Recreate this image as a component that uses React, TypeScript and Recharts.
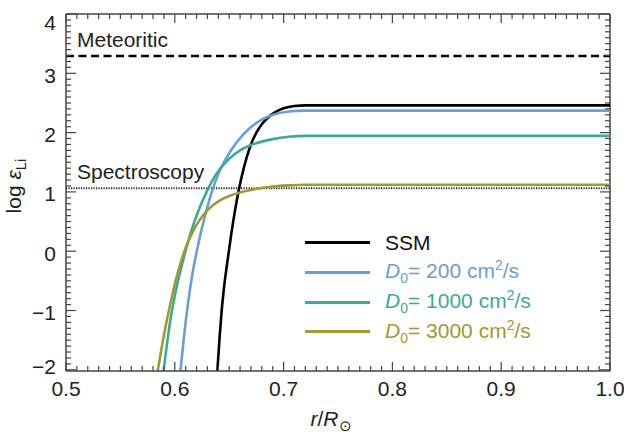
import React from 'react';
import { LineChart, Line, XAxis, YAxis, ReferenceLine } from 'recharts';

// ---- data ----
const ssmX = [0.639, 0.641, 0.643, 0.645, 0.648, 0.652, 0.657, 0.661, 0.666, 0.670, 0.675, 0.680, 0.686, 0.692, 0.700, 0.710, 0.720, 1.0];
const ssmY = [-2.05, -1.50, -1.02, -0.65, -0.22, 0.30, 0.86, 1.22, 1.58, 1.80, 2.00, 2.14, 2.26, 2.34, 2.41, 2.45, 2.46, 2.46];

const d200X = [0.605, 0.608, 0.611, 0.614, 0.617, 0.620, 0.624, 0.629, 0.634, 0.640, 0.647, 0.657, 0.668, 0.680, 0.692, 0.705, 0.720, 1.0];
const d200Y = [-2.05, -1.52, -1.04, -0.64, -0.30, -0.02, 0.32, 0.68, 1.00, 1.30, 1.56, 1.84, 2.06, 2.22, 2.31, 2.355, 2.37, 2.37];

const d1000X = [0.5895, 0.592, 0.5956, 0.600, 0.604, 0.608, 0.6155, 0.623, 0.630, 0.638, 0.650, 0.660, 0.670, 0.690, 0.705, 0.720, 1.0];
const d1000Y = [-2.05, -1.68, -1.20, -0.75, -0.42, -0.13, 0.36, 0.74, 1.03, 1.30, 1.56, 1.70, 1.79, 1.89, 1.93, 1.945, 1.945];

const d3000X = [0.584, 0.588, 0.5925, 0.597, 0.601, 0.605, 0.610, 0.616, 0.623, 0.631, 0.640, 0.650, 0.660, 0.675, 0.690, 0.705, 0.720, 1.0];
const d3000Y = [-2.05, -1.62, -1.18, -0.80, -0.48, -0.22, 0.06, 0.31, 0.53, 0.71, 0.84, 0.93, 0.99, 1.05, 1.09, 1.11, 1.12, 1.12];

const meteoritic = 3.29;
const spectroscopy = 1.06;

const xMajorTicks = [0.5, 0.6, 0.7, 0.8, 0.9, 1.0];
const xTickLabels = ['0.5', '0.6', '0.7', '0.8', '0.9', '1.0'];
const yMajorTicks = [-2, -1, 0, 1, 2, 3, 4];
const yTickLabels = ['\u22122', '\u22121', '0', '1', '2', '3', '4'];

const seriesNames = ['SSM', '200', '1000', '3000'];
const seriesColors = ['#000000', '#6a9ed6', '#3daa94', '#9e9b30'];

// ---- derived ----
const toRows = (xs: number[], ys: number[]) => xs.map((x, i) => ({ x, y: ys[i] }));
const seriesData = [toRows(ssmX, ssmY), toRows(d200X, d200Y), toRows(d1000X, d1000Y), toRows(d3000X, d3000Y)];

const xAllTicks: number[] = [];
for (let i = 50; i <= 100; i++) xAllTicks.push(i / 100);
const yAllTicks: number[] = [];
for (let i = -20; i <= 40; i++) yAllTicks.push(i / 10);

const PL = 66, PR = 610, PT = 14, PB = 371;
const FONT = '"Liberation Sans", Arial, Helvetica, sans-serif';
const TXT = '#222';
const AX = '#444';

const near = (a: number, b: number) => Math.abs(a - b) < 1e-6;

const XTick = (props: any) => {
  const { x, payload } = props;
  const v = payload.value;
  const idx = xMajorTicks.findIndex((m) => near(m, v));
  const len = idx >= 0 ? 9 : 5;
  return (
    <g>
      <line x1={x} x2={x} y1={PB} y2={PB - len} stroke={AX} strokeWidth={1.2} />
      <line x1={x} x2={x} y1={PT} y2={PT + len} stroke={AX} strokeWidth={1.2} />
      {idx >= 0 && (
        <text x={x} y={388} textAnchor="middle" dominantBaseline="central" fontSize={21} fontFamily={FONT} fill={TXT}>
          {xTickLabels[idx]}
        </text>
      )}
    </g>
  );
};

const YTick = (props: any) => {
  const { y, payload } = props;
  const v = payload.value;
  const idx = yMajorTicks.findIndex((m) => near(m, v));
  const len = idx >= 0 ? 10 : 5;
  let ly = y + 2;
  if (idx >= 0 && yMajorTicks[idx] === 4) ly = 22;
  if (idx >= 0 && yMajorTicks[idx] === -2) ly = 366;
  return (
    <g>
      <line x1={PL} x2={PL + len} y1={y} y2={y} stroke={AX} strokeWidth={1.2} />
      <line x1={PR} x2={PR - len} y1={y} y2={y} stroke={AX} strokeWidth={1.2} />
      {idx >= 0 && (
        <text x={56} y={ly} textAnchor="end" dominantBaseline="central" fontSize={21} fontFamily={FONT} fill={TXT}>
          {yTickLabels[idx]}
        </text>
      )}
    </g>
  );
};

const LegendBox = () => (
  <div style={{ position: 'absolute', left: 305, top: 228, fontFamily: FONT, fontSize: 21, lineHeight: '29.7px' }}>
    {seriesNames.map((name, i) => (
      <div key={name} style={{ display: 'flex', alignItems: 'center', height: 29.7, color: i === 0 ? '#111' : seriesColors[i] }}>
        <div style={{ width: 65, height: 3, background: seriesColors[i], marginRight: 15 }} />
        {i === 0 ? (
          <span>SSM</span>
        ) : (
          <span style={{ whiteSpace: 'nowrap' }}>
            <i>D</i>
            <span style={{ fontSize: 14, position: 'relative', top: 5 }}>0</span>= {name} cm
            <span style={{ fontSize: 14, position: 'relative', top: -8 }}>2</span>/s
          </span>
        )}
      </div>
    ))}
  </div>
);

const RefLabel = (text: string) => (props: any) => {
  const vb = props.viewBox || {};
  return (
    <text x={(vb.x ?? PL) + 11} y={(vb.y ?? 0) - 9} fontSize={21} fontFamily={FONT} fill={TXT}>
      {text}
    </text>
  );
};

const YLabel = () => (
  <text transform="translate(21,186) rotate(-90)" textAnchor="middle" fontSize={21} fontFamily={FONT} fill={TXT}>
    log <tspan fontStyle="italic">{'\u03b5'}</tspan>
    <tspan fontSize={15} dy={5}>Li</tspan>
  </text>
);

const XLabel = () => (
  <text x={331} y={426} textAnchor="middle" fontSize={21} fontFamily={FONT} fill={TXT}>
    <tspan fontStyle="italic">r</tspan>/<tspan fontStyle="italic">R</tspan>
    <tspan fontSize={15} dy={5}>{'\u2299'}</tspan>
  </text>
);

export default function App() {
  return (
    <div style={{ position: 'absolute', left: 0, top: 0, width: 624, height: 434, background: '#fff' }}>
      <LineChart width={624} height={434} margin={{ top: PT, right: 624 - PR, bottom: 0, left: 0 }}>
        <XAxis
          dataKey="x"
          type="number"
          domain={[0.5, 1.0]}
          allowDataOverflow
          ticks={xAllTicks}
          interval={0}
          tick={<XTick />}
          tickLine={false}
          axisLine={{ stroke: AX, strokeWidth: 1.5 }}
          height={63}
          label={<XLabel />}
        />
        <YAxis
          dataKey="y"
          type="number"
          domain={[-2.02, 4.0]}
          allowDataOverflow
          ticks={yAllTicks}
          interval={0}
          tick={<YTick />}
          tickLine={false}
          axisLine={{ stroke: AX, strokeWidth: 1.5 }}
          width={66}
          label={<YLabel />}
        />
        <ReferenceLine y={4.0} stroke={AX} strokeWidth={1.5} />
        <ReferenceLine x={1.0} stroke={AX} strokeWidth={1.5} />
        <ReferenceLine y={meteoritic} stroke="#000" strokeWidth={2.5} strokeDasharray="8 4.5" label={RefLabel('Meteoritic')} />
        <ReferenceLine y={spectroscopy} stroke="#222" strokeWidth={2} strokeDasharray="1.2 1.3" label={RefLabel('Spectroscopy')} />
        {seriesData.map((d, i) => (
          <Line
            key={seriesNames[i]}
            data={d}
            dataKey="y"
            type="monotone"
            stroke={seriesColors[i]}
            strokeWidth={2.6}
            dot={false}
            isAnimationActive={false}
          />
        ))}
      </LineChart>
      <LegendBox />
    </div>
  );
}
